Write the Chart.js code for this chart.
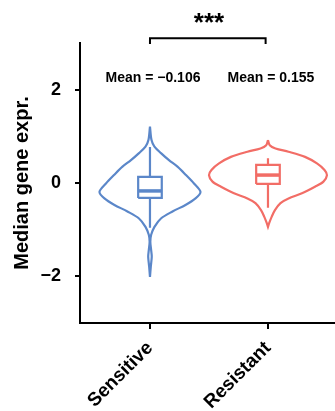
<!DOCTYPE html>
<html lang="en">
<head>
    <meta charset="UTF-8">
    <title>Median gene expression violin</title>
    <style>
        html, body { margin: 0; padding: 0; background: #fff; }
        canvas { display: block; }
    </style>
</head>
<body>
    <canvas id="myChart" width="335" height="411"></canvas>
    <script src="https://cdn.jsdelivr.net/npm/chart.js@4/dist/chart.umd.min.js"></script>
    <script>
        // groups and summary numbers
        var groups = ["Sensitive", "Resistant"];
        var groupPos = [1, 2];
        var meanText = ["Mean = \u22120.106", "Mean = 0.155"];
        var colors = ["#5b87c9", "#f26d66"];
        var yTicks = [-2, 0, 2];

        // violin outline: y values and half width (in group units)
        var sensY = [1.21, 0.92, 0.78, 0.64, 0.49, 0.35, 0.17, -0.01, -0.19, -0.33, -0.47, -0.61, -0.76, -0.94, -1.11, -1.26, -1.44, -1.58, -1.79, -2.01];
        var sensW = [0, 0.013, 0.038, 0.093, 0.161, 0.233, 0.305, 0.373, 0.428, 0.386, 0.301, 0.191, 0.093, 0.038, 0.010, 0.003, 0.010, 0.015, 0.007, 0];
        var resY  = [0.92, 0.81, 0.74, 0.67, 0.56, 0.42, 0.28, 0.17, 0.03, -0.08, -0.22, -0.33, -0.43, -0.58, -0.72, -0.86, -0.94];
        var resW  = [0, 0.015, 0.064, 0.174, 0.314, 0.415, 0.479, 0.5, 0.47, 0.398, 0.288, 0.174, 0.106, 0.059, 0.032, 0.010, 0];

        // box plot stats: [lower whisker, q1, median, q3, upper whisker]
        var sensBox = [-0.96, -0.32, -0.17, 0.13, 0.77];
        var resBox  = [-0.53, -0.02, 0.17, 0.39, 0.53];
        var boxHalf = 0.1;

        // significance bracket and labels
        var bracketY = [2.98, 3.1];
        var starsY = 3.56;
        var meanY = 2.25;

        function violin(pos, ys, ws) {
            var pts = [];
            for (var i = 0; i < ys.length; i++) pts.push({x: pos + ws[i], y: ys[i]});
            for (var j = ys.length - 1; j >= 0; j--) pts.push({x: pos - ws[j], y: ys[j]});
            return pts;
        }

        function boxRect(pos, s) {
            return [
                {x: pos - boxHalf, y: s[1]}, {x: pos + boxHalf, y: s[1]},
                {x: pos + boxHalf, y: s[3]}, {x: pos - boxHalf, y: s[3]},
                {x: pos - boxHalf, y: s[1]}
            ];
        }

        function whiskers(pos, s) {
            return [
                {x: pos, y: s[4]}, {x: pos, y: s[3]}, {x: pos, y: null},
                {x: pos, y: s[1]}, {x: pos, y: s[0]}
            ];
        }

        function line(data, color, width, extra) {
            var ds = {
                data: data,
                showLine: true,
                borderColor: color,
                borderWidth: width,
                pointRadius: 0,
                fill: false,
                tension: 0,
                spanGaps: false
            };
            for (var k in extra) ds[k] = extra[k];
            return ds;
        }

        var datasets = [];
        var stats = [sensBox, resBox];
        var outlines = [[sensY, sensW], [resY, resW]];
        for (var g = 0; g < groups.length; g++) {
            var p = groupPos[g];
            datasets.push(line(violin(p, outlines[g][0], outlines[g][1]), colors[g], 2.2, {tension: 0.3}));
            datasets.push(line(whiskers(p, stats[g]), colors[g], 2.2));
            datasets.push(line(boxRect(p, stats[g]), colors[g], 2.2, {fill: true, backgroundColor: "#ffffff"}));
            datasets.push(line([{x: p - boxHalf, y: stats[g][2]}, {x: p + boxHalf, y: stats[g][2]}], colors[g], 3.5));
        }
        datasets.push(line([
            {x: groupPos[0], y: bracketY[0]}, {x: groupPos[0], y: bracketY[1]},
            {x: groupPos[1] - 0.02, y: bracketY[1]}, {x: groupPos[1] - 0.02, y: bracketY[0]}
        ], "#000", 2, {clip: false}));

        var textPlugin = {
            id: "annotations",
            afterDraw: function(chart) {
                var ctx = chart.ctx;
                var xs = chart.scales.x, ys = chart.scales.y;
                ctx.save();
                ctx.fillStyle = "#000";
                ctx.textAlign = "center";
                ctx.textBaseline = "middle";
                ctx.font = "bold 14px 'Liberation Sans', Arial, sans-serif";
                for (var i = 0; i < groups.length; i++) {
                    ctx.fillText(meanText[i], xs.getPixelForValue(groupPos[i]) + 3, ys.getPixelForValue(meanY));
                }
                ctx.font = "bold 26px 'Liberation Sans', Arial, sans-serif";
                ctx.textBaseline = "alphabetic";
                ctx.fillText("***", (xs.getPixelForValue(groupPos[0]) + xs.getPixelForValue(groupPos[1])) / 2, ys.getPixelForValue(starsY) + 14);
                ctx.restore();
            }
        };

        var font = "'Liberation Sans', Arial, sans-serif";
        var ctx = document.getElementById("myChart").getContext("2d");
        var myChart = new Chart(ctx, {
            type: "scatter",
            data: { datasets: datasets },
            plugins: [textPlugin],
            options: {
                responsive: false,
                animation: false,
                devicePixelRatio: 1,
                layout: { padding: { top: 43, right: 0, bottom: 0, left: 0 } },
                plugins: { legend: { display: false }, tooltip: { enabled: false } },
                scales: {
                    x: {
                        type: "linear",
                        min: 0.407,
                        max: 2.568,
                        afterFit: function(s) { s.height = 88; },
                        afterBuildTicks: function(s) { s.ticks = groupPos.map(function(v) { return {value: v}; }); },
                        border: { display: true, color: "#000", width: 2 },
                        grid: { drawOnChartArea: false, color: "#000", lineWidth: 2, tickLength: 6 },
                        ticks: {
                            color: "#000",
                            minRotation: 45,
                            maxRotation: 45,
                            padding: 8,
                            font: { family: font, size: 19, weight: "bold" },
                            callback: function(v) { return groups[groupPos.indexOf(v)] || ""; }
                        }
                    },
                    y: {
                        min: -3,
                        max: 3,
                        afterFit: function(s) { s.width = 80; },
                        afterBuildTicks: function(s) { s.ticks = yTicks.map(function(v) { return {value: v}; }); },
                        border: { display: true, color: "#000", width: 2 },
                        grid: { drawOnChartArea: false, color: "#000", lineWidth: 2, tickLength: 5 },
                        ticks: {
                            color: "#000",
                            padding: 14,
                            font: { family: font, size: 18, weight: "bold" },
                            callback: function(v) { return v < 0 ? "\u2212" + Math.abs(v) : String(v); }
                        },
                        title: {
                            display: true,
                            text: "Median gene expr.",
                            color: "#000",
                            padding: { top: 10, bottom: 0 },
                            font: { family: font, size: 20, weight: "bold" }
                        }
                    }
                }
            }
        });
    </script>
</body>
</html>
